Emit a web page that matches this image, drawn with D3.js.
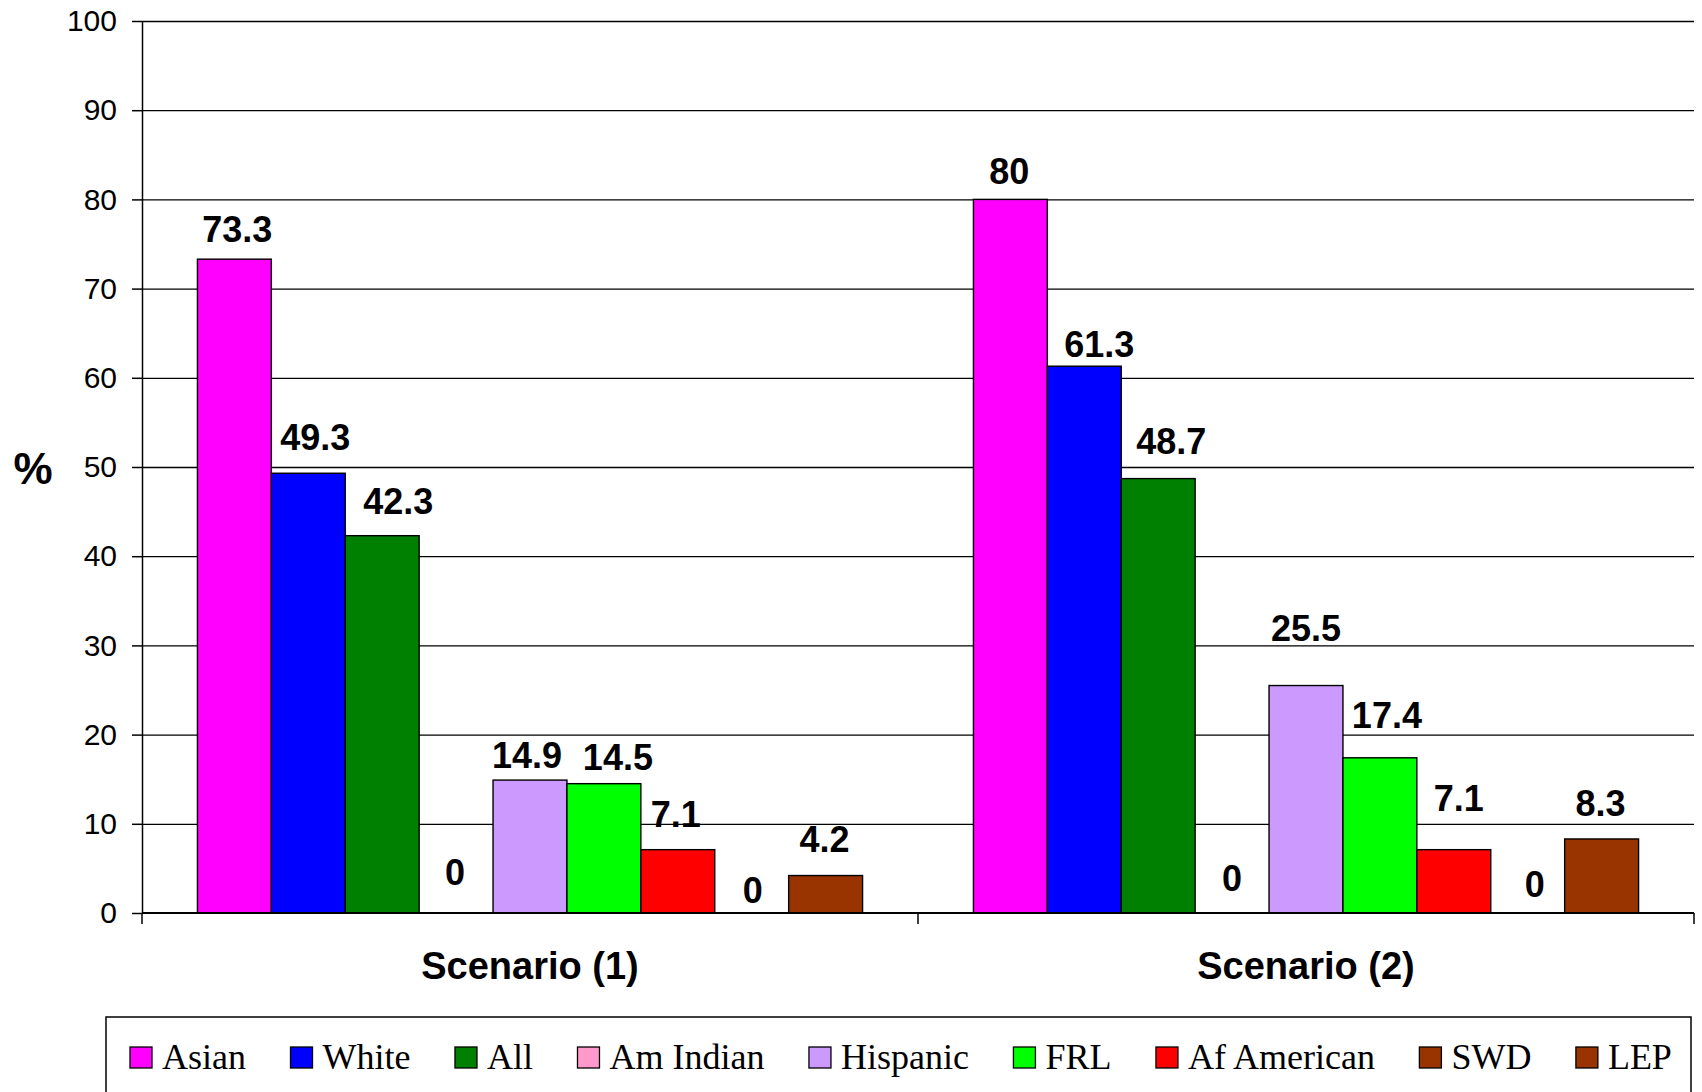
<!DOCTYPE html>
<html>
<head>
<meta charset="utf-8">
<script src="https://cdn.jsdelivr.net/npm/d3@7"></script>
<style>
  html, body { margin: 0; padding: 0; background: #fff; }
  svg { display: block; }
</style>
</head>
<body>
<svg id="chart" width="1702" height="1092"></svg>
<script>
// Scenario groups along the x axis
const categories = ["Scenario (1)", "Scenario (2)"];

// Student groups (one bar each per scenario)
const seriesNames = ["Asian", "White", "All", "Am Indian", "Hispanic", "FRL", "Af American", "SWD", "LEP"];

// Percent values per scenario, in seriesNames order
const scenario1Values = [73.3, 49.3, 42.3, 0, 14.9, 14.5, 7.1, 0, 4.2];
const scenario2Values = [80, 61.3, 48.7, 0, 25.5, 17.4, 7.1, 0, 8.3];

// Y-axis tick labels
const yTicks = [0, 10, 20, 30, 40, 50, 60, 70, 80, 90, 100];

// Fill colour for each group
const seriesColors = ["#ff00ff", "#0000ff", "#008000", "#ff99cc", "#cc99ff", "#00ff00", "#ff0000", "#993300", "#993300"];

// Hand-placed value labels: [horizontal shift, lift above bar top] in px
const labelNudge1 = [[3, 17], [7, 23], [16, 22], [-1, 28], [-3, 12], [14, 14], [-2, 23], [1, 10], [-1, 24]];
const labelNudge2 = [[-1, 15], [15, 9], [13, 25], [0, 22], [0, 45], [7, 30], [5, 39], [7, 16], [-1, 23]];

const valuesByCategory = [scenario1Values, scenario2Values];
const nudgesByCategory = [labelNudge1, labelNudge2];

const svg = d3.select("#chart");
const plot = { left: 142, right: 1694, top: 21, bottom: 913 };

const y = d3.scaleLinear().domain([0, 100]).range([plot.bottom, plot.top]);
const x0 = d3.scaleBand().domain(categories).range([plot.left, plot.right]).paddingInner(0).paddingOuter(0);
const x1 = d3.scaleBand().domain(seriesNames).range([0, x0.bandwidth()]).paddingInner(0).paddingOuter(0.75);
const color = d3.scaleOrdinal().domain(seriesNames).range(seriesColors);

// Horizontal gridlines
const grid = svg.append("g")
  .attr("transform", `translate(${plot.left},0)`)
  .call(d3.axisLeft(y).tickValues(yTicks.filter(t => t > 0)).tickSize(-(plot.right - plot.left)).tickFormat(""));
grid.select(".domain").remove();
grid.selectAll(".tick line").attr("stroke", "#000").attr("stroke-width", 1.3);

// Bars
const groups = svg.append("g").selectAll("g")
  .data(categories)
  .join("g")
  .attr("transform", d => `translate(${x0(d)},0)`);

groups.selectAll("rect")
  .data((c, ci) => seriesNames.map((s, si) => ({ s, v: valuesByCategory[ci][si] })))
  .join("rect")
  .attr("x", d => x1(d.s))
  .attr("width", x1.bandwidth())
  .attr("y", d => y(d.v))
  .attr("height", d => y(0) - y(d.v))
  .attr("fill", d => color(d.s))
  .attr("stroke", "#000")
  .attr("stroke-width", d => d.v > 0 ? 1.4 : 0);

// Value labels
groups.selectAll("text")
  .data((c, ci) => seriesNames.map((s, si) => ({ s, v: valuesByCategory[ci][si], n: nudgesByCategory[ci][si] })))
  .join("text")
  .attr("x", d => x1(d.s) + x1.bandwidth() / 2 + d.n[0])
  .attr("y", d => y(d.v) - d.n[1])
  .attr("text-anchor", "middle")
  .attr("font-family", "'Liberation Sans', Arial, sans-serif")
  .attr("font-weight", "bold")
  .attr("font-size", 36)
  .attr("fill", "#000")
  .text(d => d3.format("~g")(d.v));

// Y axis
const yAxis = svg.append("g")
  .attr("transform", `translate(${plot.left},0)`)
  .call(d3.axisLeft(y).tickValues(yTicks).tickSize(10).tickPadding(15).tickSizeOuter(0));
yAxis.select(".domain").attr("stroke", "#000").attr("stroke-width", 1.5);
yAxis.selectAll(".tick line").attr("stroke", "#000").attr("stroke-width", 1.5);
yAxis.selectAll(".tick text")
  .attr("font-family", "'Liberation Sans', Arial, sans-serif")
  .attr("font-size", 30)
  .attr("fill", "#000");

// X axis baseline with dividers between scenario groups
const xAxis = svg.append("g").attr("transform", `translate(0,${plot.bottom})`);
xAxis.append("line")
  .attr("x1", plot.left).attr("x2", plot.right)
  .attr("stroke", "#000").attr("stroke-width", 2);
const edges = categories.map(c => x0(c)).concat([x0(categories[categories.length - 1]) + x0.bandwidth()]);
xAxis.selectAll("line.div")
  .data(edges)
  .join("line")
  .attr("class", "div")
  .attr("x1", d => d).attr("x2", d => d)
  .attr("y1", 0).attr("y2", 11)
  .attr("stroke", "#000").attr("stroke-width", 1.5);
xAxis.selectAll("text")
  .data(categories)
  .join("text")
  .attr("x", d => x0(d) + x0.bandwidth() / 2)
  .attr("y", 66)
  .attr("text-anchor", "middle")
  .attr("font-family", "'Liberation Sans', Arial, sans-serif")
  .attr("font-weight", "bold")
  .attr("font-size", 38)
  .attr("fill", "#000")
  .text(d => d);

// Y axis title
svg.append("text")
  .attr("x", 33)
  .attr("y", 484)
  .attr("text-anchor", "middle")
  .attr("font-family", "'Liberation Sans', Arial, sans-serif")
  .attr("font-weight", "bold")
  .attr("font-size", 44)
  .attr("fill", "#000")
  .text("%");

// Legend
const legend = svg.append("g");
legend.append("rect")
  .attr("x", 106).attr("y", 1017)
  .attr("width", 1691 - 106).attr("height", 120)
  .attr("fill", "#fff").attr("stroke", "#000").attr("stroke-width", 1.5);

let lx = 130;
seriesNames.forEach(name => {
  const item = legend.append("g").attr("transform", `translate(${lx},0)`);
  item.append("rect")
    .attr("x", 0).attr("y", 1047)
    .attr("width", 22).attr("height", 21)
    .attr("fill", color(name)).attr("stroke", "#000").attr("stroke-width", 1.3);
  const t = item.append("text")
    .attr("x", 32).attr("y", 1069)
    .attr("font-family", "'Liberation Serif', 'Times New Roman', serif")
    .attr("font-size", 36)
    .attr("fill", "#000")
    .text(name);
  lx += 32 + t.node().getComputedTextLength() + 44.5;
});
</script>
</body>
</html>
